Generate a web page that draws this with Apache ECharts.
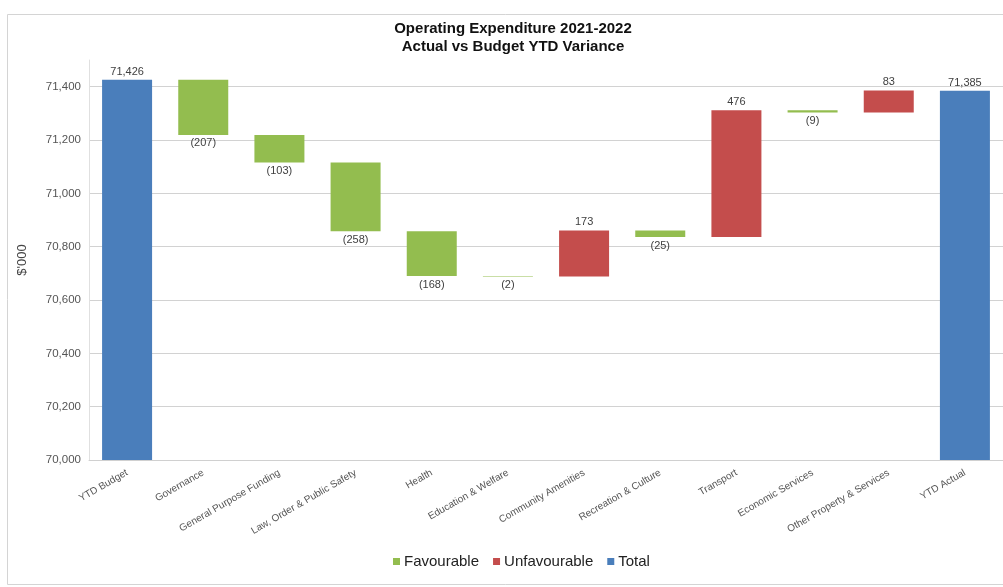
<!DOCTYPE html>
<html>
<head>
<meta charset="utf-8">
<script src="https://cdn.jsdelivr.net/npm/echarts@6/dist/echarts.min.js"></script>
<style>
  html, body { margin: 0; padding: 0; background: #fff; }
  #chart { width: 1003px; height: 587px; }
</style>
</head>
<body>
<div id="chart"></div>
<script>
// Operating expenditure waterfall, $'000
const categories = [
  'YTD Budget', 'Governance', 'General Purpose Funding', 'Law, Order & Public Safety',
  'Health', 'Education & Welfare', 'Community Amenities', 'Recreation & Culture',
  'Transport', 'Economic Services', 'Other Property & Services', 'YTD Actual'
];
const ytdBudget = 71426;
const ytdActual = 71385;
// Variance per program (negative = under budget)
const variances = [null, -207, -103, -258, -168, -2, 173, -25, 476, -9, 83, null];
const yTicks = [70000, 70200, 70400, 70600, 70800, 71000, 71200, 71400];

const COLORS = { fav: '#93bd4f', unfav: '#c44d4c', total: '#4a7ebb' };

// Build floating segments from the running total
const base = [], fav = [], unfav = [], total = [];
let running = ytdBudget;
categories.forEach((c, i) => {
  if (i === 0) {
    base.push('-'); fav.push('-'); unfav.push('-'); total.push(ytdBudget);
  } else if (i === categories.length - 1) {
    base.push('-'); fav.push('-'); unfav.push('-'); total.push(ytdActual);
  } else {
    const v = variances[i];
    const next = running + v;
    base.push(Math.min(running, next));
    if (v < 0) { fav.push({ value: -v, delta: v }); unfav.push('-'); }
    else { unfav.push({ value: v, delta: v }); fav.push('-'); }
    total.push('-');
    running = next;
  }
});

const fmtThousands = n => n.toLocaleString('en-US');
const fmtVar = v => v < 0 ? '(' + fmtThousands(-v) + ')' : fmtThousands(v);

const FONT = 'Liberation Sans, Arial, sans-serif';
const labelStyle = { fontFamily: FONT, fontSize: 11, color: '#404040' };

const chart = echarts.init(document.getElementById('chart'), null, { renderer: 'canvas' });
chart.setOption({
  backgroundColor: '#ffffff',
  animation: false,
  title: {
    text: 'Operating Expenditure 2021-2022\nActual vs Budget YTD Variance',
    left: 508, top: 15, textAlign: 'center',
    textStyle: { fontFamily: FONT, fontWeight: 'bold', fontSize: 15, lineHeight: 18, color: '#111' }
  },
  graphic: [{
    type: 'rect', left: 5, top: 12, silent: true, z: -1,
    shape: { width: 1010, height: 570 },
    style: { fill: 'none', stroke: '#d4d4d4', lineWidth: 1 }
  }],
  legend: {
    data: ['Favourable', 'Unfavourable', 'Total'],
    left: 388, top: 549,
    icon: 'rect', itemWidth: 7, itemHeight: 7, itemGap: 14,
    textStyle: { fontFamily: FONT, fontSize: 15, color: '#222', padding: [0, 0, 0, -1] }
  },
  grid: { left: 89, right: -2, top: 60, bottom: 127, containLabel: false },
  xAxis: {
    type: 'category', data: categories,
    axisLine: { show: true, lineStyle: { color: '#d0d0d0' } },
    axisTick: { show: false },
    axisLabel: {
      interval: 0, rotate: 30, margin: 12,
      fontFamily: FONT, fontSize: 10, color: '#555'
    }
  },
  yAxis: {
    type: 'value', min: 70000, max: 71500, interval: 200,
    name: "$'000", nameLocation: 'middle', nameGap: 60, nameRotate: 90,
    nameTextStyle: { fontFamily: FONT, fontSize: 13, color: '#444' },
    axisLine: { show: true, lineStyle: { color: '#e0e0e0' } },
    axisTick: { show: false },
    axisLabel: {
      showMaxLabel: false, margin: 8,
      fontFamily: FONT, fontSize: 11.5, color: '#555',
      formatter: v => yTicks.includes(v) ? fmtThousands(v) : ''
    },
    splitLine: { show: true, showMaxLine: false, lineStyle: { color: '#d2d2d2' } }
  },
  series: [
    {
      name: 'base', type: 'bar', stack: 'wf', data: base, barWidth: 50,
      itemStyle: { color: 'rgba(0,0,0,0)' }, silent: true, label: { show: false }
    },
    {
      name: 'Favourable', type: 'bar', stack: 'wf', data: fav, barWidth: 50,
      itemStyle: { color: COLORS.fav },
      label: {
        show: true, position: 'bottom', distance: 3, ...labelStyle,
        formatter: p => fmtVar(p.data.delta)
      }
    },
    {
      name: 'Unfavourable', type: 'bar', stack: 'wf', data: unfav, barWidth: 50,
      itemStyle: { color: COLORS.unfav },
      label: {
        show: true, position: 'top', distance: 3, ...labelStyle,
        formatter: p => fmtVar(p.data.delta)
      }
    },
    {
      name: 'Total', type: 'bar', stack: 'wf', data: total, barWidth: 50,
      itemStyle: { color: COLORS.total },
      label: {
        show: true, position: 'top', distance: 2, ...labelStyle,
        formatter: p => fmtThousands(p.value)
      }
    }
  ]
});
</script>
</body>
</html>
